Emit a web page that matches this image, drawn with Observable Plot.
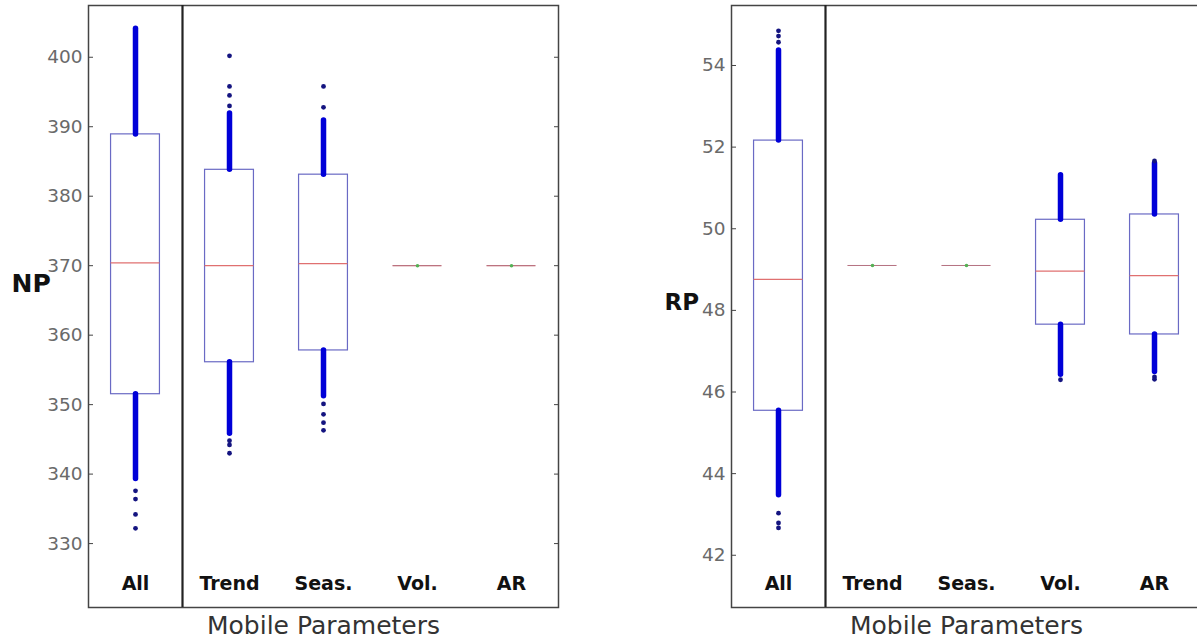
<!DOCTYPE html>
<html>
<head>
<meta charset="utf-8">
<script src="https://cdn.jsdelivr.net/npm/d3@7"></script>
<script src="https://cdn.jsdelivr.net/npm/@observablehq/plot@0.6"></script>
<style>
  html, body { margin: 0; padding: 0; background: #fff; }
  #wrap { display: flex; width: 1197px; height: 642px; overflow: hidden; }
  #wrap svg { flex: none; }
</style>
</head>
<body>
<div id="wrap"></div>
<script>
// ---------- data ----------
const categories = ["All", "Trend", "Seas.", "Vol.", "AR"];

// NP panel
const npTicks = [330, 340, 350, 360, 370, 380, 390, 400];
const npQ1 = [351.5, 356.1, 357.8, 370.0, 370.0];
const npMedian = [370.4, 370.0, 370.3, 370.0, 370.0];
const npQ3 = [388.9, 383.8, 383.1, 370.0, 370.0];
const npDenseLow = [339.3, 345.8, 351.2, null, null];
const npDenseHigh = [404.1, 391.9, 390.9, null, null];
const npSparseCat = ["All", "All", "All", "All", "Trend", "Trend", "Trend", "Trend", "Trend", "Trend", "Trend", "Seas.", "Seas.", "Seas.", "Seas.", "Seas.", "Seas."];
const npSparseVal = [337.6, 336.4, 334.2, 332.2, 393.0, 394.5, 395.8, 400.2, 344.8, 344.2, 343.0, 392.8, 395.8, 350.1, 348.6, 347.4, 346.3];

// RP panel
const rpTicks = [42, 44, 46, 48, 50, 52, 54];
const rpQ1 = [45.54, 49.1, 49.1, 47.65, 47.41];
const rpMedian = [48.76, 49.1, 49.1, 48.96, 48.85];
const rpQ3 = [52.16, 49.1, 49.1, 50.22, 50.35];
const rpDenseLow = [43.47, null, null, 46.42, 46.49];
const rpDenseHigh = [54.37, null, null, 51.31, 51.6];
const rpSparseCat = ["All", "All", "All", "All", "All", "All", "Vol.", "AR", "AR", "AR"];
const rpSparseVal = [54.57, 54.72, 54.85, 43.03, 42.79, 42.67, 46.3, 51.66, 46.37, 46.31];

// ---------- drawing ----------
const HALF = 0.26;
const pos = c => categories.indexOf(c) + 1;

function panel({ticks, q1, med, q3, lo, hi, sparseCat, sparseVal, domain, label, labelDx, labelDy, labelSize, width, marginLeft, marginRight}) {
  const table = categories.map((c, i) => ({c, p: i + 1, q1: q1[i], med: med[i], q3: q3[i], lo: lo[i], hi: hi[i]}));
  const boxes = table.filter(d => d.q3 > d.q1);
  const flat = table.filter(d => d.q3 === d.q1);
  const dense = table.filter(d => d.lo != null);
  const sparse = sparseCat.map((c, i) => ({p: pos(c), v: sparseVal[i]}));
  return Plot.plot({
    width, height: 642,
    marginLeft, marginRight, marginTop: 5, marginBottom: 35,
    style: {fontFamily: "DejaVu Sans, sans-serif", fontSize: "18px", background: "#fff"},
    x: {domain: [0.5, 5.5], axis: null},
    y: {domain, axis: null},
    marks: [
      Plot.axisY({anchor: "left", ticks, tickSize: -5, tickPadding: 11, stroke: "#444", fill: "#6a6a6a", fontSize: 18.5, label: null}),
      Plot.axisY({anchor: "right", ticks, tickSize: -5, tickFormat: () => "", stroke: "#444", label: null}),
      Plot.rect(boxes, {x1: d => d.p - HALF, x2: d => d.p + HALF, y1: "q1", y2: "q3", fill: "#fff", stroke: "#6a6ac4", strokeWidth: 1.2}),
      Plot.ruleX(dense, {x: "p", y1: "q3", y2: "hi", stroke: "#0000d8", strokeWidth: 5.5, strokeLinecap: "round"}),
      Plot.ruleX(dense, {x: "p", y1: "lo", y2: "q1", stroke: "#0000d8", strokeWidth: 5.5, strokeLinecap: "round"}),
      Plot.dot(sparse, {x: "p", y: "v", r: 2.4, fill: "#141480", stroke: null}),
      Plot.ruleY(table, {y: "med", x1: d => d.p - HALF, x2: d => d.p + HALF, stroke: "#e07070", strokeWidth: 1.2}),
      Plot.ruleY(flat, {y: "med", x1: d => d.p - HALF, x2: d => d.p + HALF, stroke: "#8a7a9a", strokeWidth: 1, strokeOpacity: 0.5}),
      Plot.dot(flat, {x: "p", y: "med", r: 1.8, fill: "#55b055", stroke: null}),
      Plot.frame({stroke: "#444", strokeWidth: 1.5}),
      Plot.ruleX([1.5], {stroke: "#222", strokeWidth: 2.2}),
      Plot.text(categories, {x: (d, i) => i + 1, frameAnchor: "bottom", dy: -18, fontWeight: "bold", fontSize: 19, fill: "#111"}),
      Plot.text(["Mobile Parameters"], {frameAnchor: "bottom", dy: 26, fontSize: 25, fill: "#333", letterSpacing: "1px"}),
      Plot.text([label], {frameAnchor: "left", dx: labelDx, dy: labelDy, textAnchor: "start", fontWeight: "bold", fontSize: labelSize, fill: "#111"})
    ]
  });
}

const wrap = document.getElementById("wrap");
wrap.append(panel({
  ticks: npTicks, q1: npQ1, med: npMedian, q3: npQ3, lo: npDenseLow, hi: npDenseHigh,
  sparseCat: npSparseCat, sparseVal: npSparseVal, domain: [320.8, 407.45],
  label: "NP", labelDx: -77, labelDy: -23, labelSize: 25, width: 598, marginLeft: 88, marginRight: 40
}));
wrap.append(panel({
  ticks: rpTicks, q1: rpQ1, med: rpMedian, q3: rpQ3, lo: rpDenseLow, hi: rpDenseHigh,
  sparseCat: rpSparseCat, sparseVal: rpSparseVal, domain: [40.72, 55.47],
  label: "RP", labelDx: -67, labelDy: -4, labelSize: 23, width: 603, marginLeft: 133, marginRight: 0
}));
</script>
</body>
</html>
